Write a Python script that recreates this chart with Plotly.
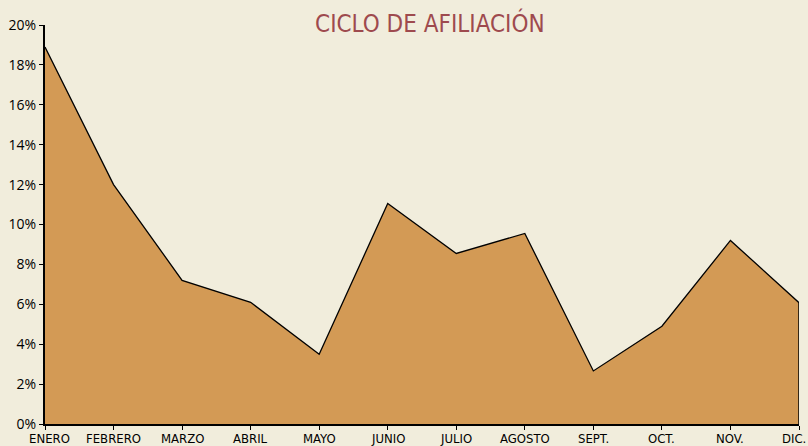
import plotly.graph_objects as go

months = ["ENERO", "FEBRERO", "MARZO", "ABRIL", "MAYO", "JUNIO", "JULIO",
          "AGOSTO", "SEPT.", "OCT.", "NOV.", "DIC."]
values = [18.9, 12.0, 7.2, 6.1, 3.5, 11.05, 8.55, 9.55, 2.66, 4.9, 9.2, 6.08]
y_ticks = [0, 2, 4, 6, 8, 10, 12, 14, 16, 18, 20]
y_labels = [f"{v}%" for v in y_ticks]

COND = "DejaVu Sans Condensed, Liberation Sans Narrow, sans-serif"
n = len(months)

fig = go.Figure()
fig.add_trace(go.Scatter(
    x=list(range(n)), y=values, mode="lines", fill="tozeroy",
    fillcolor="#D39A55", line=dict(color="black", width=1.3),
    hoverinfo="skip", showlegend=False))
fig.add_trace(go.Scatter(
    x=[n - 1, n - 1], y=[0, values[-1]], mode="lines",
    line=dict(color="black", width=1.5), hoverinfo="skip", showlegend=False))

# month labels as annotations anchored to the x axis categories
for i, m in enumerate(months):
    last = i == n - 1
    first = i == 0
    fig.add_annotation(
        x=i, y=0, xref="x", yref="paper", text=m, showarrow=False,
        xanchor="right" if last else "center", yanchor="top",
        yshift=-5, xshift=9 if last else (4 if first else 0),
        font=dict(family=COND, size=13, color="black"))

fig.update_layout(
    width=808, height=446,
    paper_bgcolor="#F1EDDC", plot_bgcolor="#F1EDDC",
    margin=dict(l=45, r=9, t=25, b=22, autoexpand=False),
    title=dict(text="CICLO DE AFILIACIÓN", x=0.532, xanchor="center", y=0.966, yanchor="top",
               font=dict(family=COND, size=24, color="#9E4A4E")),
    xaxis=dict(range=[0, n - 1], tickvals=list(range(n)),
               showticklabels=False, showgrid=False, zeroline=False, automargin=False,
               showline=True, linecolor="black", linewidth=2,
               ticks="outside", ticklen=4, tickcolor="black"),
    yaxis=dict(range=[0, 20], tickvals=y_ticks, ticktext=y_labels, automargin=False,
               showgrid=False, zeroline=False,
               showline=True, linecolor="black", linewidth=2,
               ticks="outside", ticklen=4, tickcolor="black",
               tickfont=dict(family="Open Sans, sans-serif", size=14, color="black")),
)

fig.write_html("out.html", config={"displayModeBar": False},
               post_script="document.body.style.margin='0';document.body.style.overflow='hidden';")
